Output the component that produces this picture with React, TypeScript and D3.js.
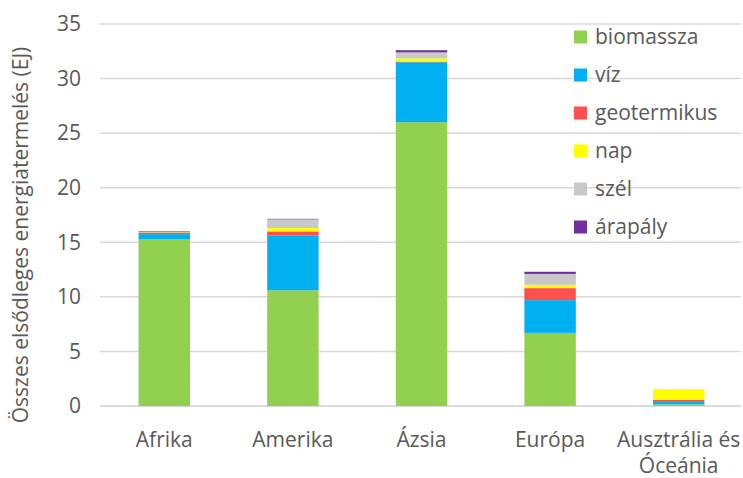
import React from "react";
import * as d3 from "d3";

const categories = ["Afrika", "Amerika", "Ázsia", "Európa", "Ausztrália és\nÓceánia"];
const seriesNames = ["biomassza", "víz", "geotermikus", "nap", "szél", "árapály"];
const seriesColors = ["#92D050", "#00B0F0", "#FF5050", "#FFFF00", "#C9C9C9", "#7030A0"];
const biomassza = [15.3, 10.6, 26.0, 6.7, 0.15];
const viz = [0.45, 5.0, 5.5, 3.0, 0.3];
const geotermikus = [0.15, 0.4, 0.05, 1.1, 0.1];
const nap = [0.02, 0.3, 0.3, 0.3, 0.95];
const szel = [0.05, 0.8, 0.55, 1.0, 0.03];
const arapaly = [0.05, 0.05, 0.2, 0.2, 0.0];
const yTicks = [0, 5, 10, 15, 20, 25, 30, 35];
const yTitle = "Összes elsődleges energiatermelés (EJ)";

const W = 743;
const H = 478;
const FONT = "'Open Sans', sans-serif";
const TXT = "#595959";
const FS = 21;

export default function App() {
  const seriesValues = [biomassza, viz, geotermikus, nap, szel, arapaly];
  const rows = categories.map((c, i) => {
    const r: any = { cat: c };
    seriesNames.forEach((s, j) => (r[s] = seriesValues[j][i]));
    return r;
  });
  const stack = d3.stack<any>().keys(seriesNames)(rows);
  const x = d3.scaleBand().domain(categories).range([100, 743]).paddingInner(0.6).paddingOuter(0.3);
  const y = d3.scaleLinear().domain([0, 35]).range([406, 24]);

  return (
    <svg width={W} height={H} style={{ position: "absolute", left: 0, top: 0, background: "#fff" }}>
      {yTicks.map((t) => (
        <g key={t}>
          <line x1={100} x2={741} y1={y(t)} y2={y(t)} stroke={t === 0 ? "#cfcfcf" : "#d9d9d9"} strokeWidth={1.5} />
          <text x={81} y={y(t)} dy="0.35em" textAnchor="end" fontFamily={FONT} fontSize={FS} fill={TXT}>
            {t}
          </text>
        </g>
      ))}
      {stack.map((s, j) =>
        s.map((d, i) => (
          <rect
            key={j + "-" + i}
            x={x(categories[i])}
            width={x.bandwidth()}
            y={y(d[1])}
            height={Math.max(0, y(d[0]) - y(d[1]))}
            fill={seriesColors[j]}
          />
        ))
      )}
      {categories.map((c) => {
        const lines = c.split("\n");
        const cx = (x(c) as number) + x.bandwidth() / 2;
        return (
          <text key={c} x={cx} y={447} textAnchor="middle" fontFamily={FONT} fontSize={FS} fill={TXT}>
            {lines.map((l, k) => (
              <tspan key={k} x={cx} dy={k === 0 ? 0 : 26}>
                {l}
              </tspan>
            ))}
          </text>
        );
      })}
      <text
        transform={`translate(21,235) rotate(-90)`}
        textAnchor="middle"
        dy="0.35em"
        fontFamily={FONT}
        fontSize={FS}
        fill={TXT}
      >
        {yTitle}
      </text>
      {seriesNames.map((s, j) => (
        <g key={s} transform={`translate(574,${37 + j * 38})`}>
          <rect x={0} y={-6.5} width={13} height={13} fill={seriesColors[j]} />
          <text x={21} y={0} dy="0.35em" fontFamily={FONT} fontSize={FS} fill={TXT}>
            {s}
          </text>
        </g>
      ))}
    </svg>
  );
}
